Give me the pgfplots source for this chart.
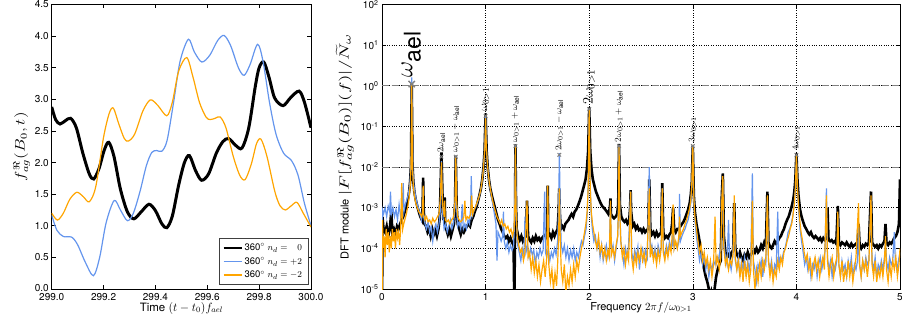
\documentclass[border=0pt]{standalone}
\usepackage{amsmath}
\usepackage{graphicx}
\usepackage{fontspec}
\setmainfont{TeX Gyre Heros}
\usepackage{pgfplots}
\pgfplotsset{compat=1.18}
\definecolor{cblue}{RGB}{100,149,237}
\definecolor{corange}{RGB}{255,165,0}
\begin{document}
\begin{tikzpicture}[x=1pt,y=1pt]
\useasboundingbox (0,0) rectangle (902,329);
\begin{axis}[at={(51.7pt,40pt)}, anchor=south west, scale only axis,
  width=259.3pt, height=284.5pt,
  xmin=299, xmax=300, ymin=0, ymax=4.5,
  xtick={299,299.2,299.4,299.6,299.8,300},
  xticklabels={299.0,299.2,299.4,299.6,299.8,300.0},
  ytick={0,0.5,1,1.5,2,2.5,3,3.5,4,4.5},
  yticklabels={\raisebox{3pt}{0.0},0.5,1.0,1.5,2.0,2.5,3.0,3.5,4.0,4.5},
  tick label style={font=\fontsize{10}{11}\selectfont},
  xticklabel style={yshift=-1pt},
  yticklabel style={xshift=0.5pt},
  tick align=inside, major tick length=4pt,
  axis line style={line width=0.8pt},
  every tick/.style={black, line width=0.6pt},
  xlabel={Time $(t-t_0)f_{ael}$},
  ylabel={\scalebox{1.45}[1.15]{$f^{\Re}_{ag}(B_0,t)$}},
  label style={font=\fontsize{11.5}{13}\selectfont},
  xlabel style={yshift=5.5pt},
  ylabel style={yshift=-2pt},
  legend style={at={(rel axis cs:0.99,0.015)}, anchor=south east, draw=black!75, line width=0.8pt,
    font=\fontsize{9.5}{11}\selectfont, row sep=1pt, inner xsep=4pt, inner ysep=3pt},
  legend cell align=left,
  legend image code/.code={\draw[#1, line width=1.6pt] (0pt,0pt) -- (18pt,0pt);},
]
\addplot[black, line width=3pt, smooth] coordinates {
(299.000,2.88)(299.015,2.68)(299.032,2.61)(299.052,2.66)(299.073,2.70)(299.095,2.55)
(299.120,2.15)(299.145,1.82)(299.162,1.74)(299.182,1.90)(299.203,2.20)(299.220,2.32)
(299.240,2.10)(299.265,1.58)(299.292,1.22)(299.317,1.11)(299.345,1.22)(299.375,1.34)
(299.400,1.24)(299.425,1.03)(299.444,0.97)(299.465,1.15)(299.490,1.65)(299.512,2.00)
(299.531,2.11)(299.555,1.87)(299.578,1.72)(299.605,1.82)(299.635,2.15)(299.660,2.33)
(299.682,2.38)(299.710,2.27)(299.734,2.23)(299.760,2.55)(299.785,3.20)(299.800,3.50)
(299.818,3.59)(299.838,3.35)(299.860,3.02)(299.892,2.90)(299.920,3.02)(299.954,3.13)
(299.975,2.95)(300.000,2.55)};
\addlegendentry{360$^\circ$ $n_d = \phantom{+}0$}
\addplot[cblue, line width=1.2pt, smooth] coordinates {
(299.000,1.17)(299.020,0.93)(299.045,0.83)(299.077,0.82)(299.100,0.70)(299.130,0.42)
(299.161,0.21)(299.185,0.50)(299.210,1.05)(299.241,1.40)(299.265,1.25)(299.292,1.08)
(299.315,1.20)(299.341,1.55)(299.365,1.95)(299.386,2.16)(299.405,2.19)(299.425,2.18)
(299.445,2.35)(299.470,2.95)(299.495,3.60)(299.527,3.95)(299.550,3.75)(299.579,3.59)
(299.610,3.70)(299.640,3.93)(299.665,4.01)(299.690,3.85)(299.720,3.50)(299.742,3.38)
(299.765,3.55)(299.794,3.87)(299.815,3.60)(299.840,2.95)(299.865,2.45)(299.894,2.15)
(299.925,2.03)(299.950,1.80)(299.975,1.35)(300.000,1.00)};
\addlegendentry{360$^\circ$ $n_d = +2$}
\addplot[corange, line width=1.2pt, smooth] coordinates {
(299.000,1.20)(299.022,1.09)(299.045,1.20)(299.070,1.42)(299.097,1.53)(299.122,1.46)
(299.145,1.38)(299.170,1.62)(299.200,2.40)(299.222,2.78)(299.238,2.86)(299.258,2.62)
(299.280,2.38)(299.296,2.34)(299.320,2.45)(299.350,2.80)(299.372,2.96)(299.386,2.99)
(299.410,2.90)(299.444,2.74)(299.465,2.95)(299.490,3.45)(299.521,3.66)(299.545,3.35)
(299.570,2.95)(299.595,2.72)(299.611,2.68)(299.630,2.70)(299.650,2.72)(299.672,2.55)
(299.700,2.10)(299.725,1.80)(299.746,1.73)(299.770,1.98)(299.790,2.30)(299.807,2.37)
(299.830,2.10)(299.860,1.55)(299.880,1.32)(299.901,1.25)(299.925,1.32)(299.946,1.37)
(299.970,1.20)(300.000,0.98)};
\addlegendentry{360$^\circ$ $n_d = -2$}
\end{axis}

\begin{axis}[at={(382pt,40pt)}, anchor=south west, scale only axis,
  width=518pt, height=284.5pt,
  xmin=0, xmax=5, ymode=log, ymin=1e-5, ymax=1e2,
  xtick={0,1,2,3,4,5}, xticklabels={0,1,2,3,4,5},
  ytick={1e-5,1e-4,1e-3,1e-2,1e-1,1e0,1e1,1e2},
  yticklabels={10\textsuperscript{-5},10\textsuperscript{-4},10\textsuperscript{-3},10\textsuperscript{-2},10\textsuperscript{-1},10\textsuperscript{0},10\textsuperscript{1},10\textsuperscript{2}},
  yminorticks=false,
  tick label style={font=\fontsize{10}{11}\selectfont},
  xticklabel style={yshift=-1pt},
  tick align=inside, major tick length=4pt,
  axis line style={line width=0.8pt},
  every tick/.style={black, line width=0.6pt},
  grid=major, major grid style={black, dotted, line width=0.6pt},
  xlabel={Frequency $2\pi f/\omega_{0>1}$},
  ylabel={DFT module \scalebox{1.75}[1.2]{$|F[f^{\Re}_{ag}(B_0)](f)|/\widetilde{N}_\omega$}},
  label style={font=\fontsize{11}{13}\selectfont},
  xlabel style={yshift=5.5pt},
]
\addplot[gray, line width=1.1pt, dash pattern=on 7pt off 3pt, forget plot] coordinates {(0,1) (5,1)};
\addplot[gray, line width=1.1pt, dash pattern=on 7pt off 3pt, forget plot] coordinates {(0,0.01) (5,0.01)};
\addplot[black, line width=2.6pt] coordinates {
(0.000,1e-6)(0.004,6e-4)(0.015,3e-4)(0.03,2.5e-4)(0.045,3.5e-4)(0.06,2e-4)(0.075,3e-4)(0.09,8e-4)(0.1,2.5e-4)(0.115,3e-4)
(0.13,2.2e-4)(0.145,3.5e-4)(0.16,3e-4)(0.175,4e-4)(0.19,5e-4)(0.205,6e-4)(0.22,8e-4)(0.235,1.1e-3)(0.25,1.6e-3)(0.262,2.5e-3)
(0.272,4.5e-3)(0.280,1.2e-2)(0.287,1.15)(0.294,1.2e-2)(0.302,4.5e-3)(0.312,2.5e-3)(0.325,1.6e-3)(0.34,1.1e-3)(0.355,8e-4)(0.37,6e-4)
(0.385,5e-4)(0.392,1e-3)(0.397,5.5e-3)(0.402,1e-3)(0.41,4e-4)(0.425,3.5e-4)(0.44,2.5e-4)(0.455,3e-4)(0.47,2e-4)(0.485,3e-4)
(0.5,2.2e-4)(0.515,2.8e-4)(0.53,2e-4)(0.545,3e-4)(0.555,5e-4)(0.562,1.5e-3)(0.568,6e-3)(0.574,2.3e-2)(0.58,5e-3)(0.586,1.2e-3)
(0.592,5e-4)(0.6,8e-4)(0.605,1.8e-3)(0.61,4e-4)(0.62,3e-4)(0.635,2.2e-4)(0.65,3e-4)(0.665,2e-4)(0.68,2.8e-4)(0.695,4e-4)
(0.705,1.2e-3)(0.712,1.9e-2)(0.72,1.2e-3)(0.73,4e-4)(0.745,3e-4)(0.76,2.2e-4)(0.775,3e-4)(0.79,2.5e-4)(0.805,3e-4)(0.82,3.5e-4)
(0.835,4e-4)(0.85,3.5e-4)(0.865,5e-4)(0.88,6e-4)(0.895,8e-4)(0.91,1e-3)(0.925,1.4e-3)(0.94,2e-3)(0.955,3e-3)(0.968,5e-3)
(0.98,1e-2)(0.99,2.5e-2)(1.0,0.21)(1.01,2.5e-2)(1.02,1e-2)(1.032,5e-3)(1.045,3e-3)(1.06,2e-3)(1.075,1.4e-3)(1.09,1e-3)
(1.105,7e-4)(1.12,5e-4)(1.135,4e-4)(1.15,3e-4)(1.165,2.5e-4)(1.18,2e-4)(1.195,1.8e-4)(1.21,2e-4)(1.225,1.5e-4)(1.24,1.8e-4)
(1.255,1.4e-4)(1.27,1.2e-4)(1.277,5e-6)(1.283,1e-4)(1.288,3.6e-2)(1.294,1e-3)(1.3,3e-4)(1.315,2e-4)(1.33,1.6e-4)(1.345,2e-4)
(1.36,1.5e-4)(1.375,1.8e-4)(1.39,2e-4)(1.4,1.5e-3)(1.41,2e-4)(1.425,1.6e-4)(1.44,1.4e-4)(1.455,1.8e-4)(1.47,1.5e-4)(1.485,2e-4)
(1.5,1.6e-4)(1.515,1.8e-4)(1.53,1.5e-4)(1.545,1.8e-4)(1.56,2e-4)(1.58,2.2e-4)(1.595,1.8e-4)(1.6,3.5e-3)(1.605,2e-4)(1.62,2.2e-4)
(1.635,1.8e-4)(1.65,2.5e-4)(1.665,2e-4)(1.68,2.5e-4)(1.695,3e-4)(1.705,8e-4)(1.71,3e-3)(1.716,8e-4)(1.725,3e-4)(1.74,3.5e-4)
(1.755,3e-4)(1.77,4e-4)(1.785,4.5e-4)(1.8,5e-4)(1.815,6e-4)(1.83,7e-4)(1.845,6e-4)(1.86,8e-4)(1.875,9e-4)(1.89,1.1e-3)
(1.905,1.4e-3)(1.92,1.8e-3)(1.935,2.5e-3)(1.95,3.5e-3)(1.965,5e-3)(1.978,9e-3)(1.99,2.5e-2)(2.0,0.3)(2.01,2.5e-2)(2.022,9e-3)
(2.035,5e-3)(2.05,3.5e-3)(2.065,2.5e-3)(2.08,2e-3)(2.095,1.6e-3)(2.11,1.3e-3)(2.125,1.1e-3)(2.14,1e-3)(2.155,9e-4)(2.17,8e-4)
(2.185,7e-4)(2.2,1e-3)(2.205,1.7e-3)(2.21,7e-4)(2.225,6e-4)(2.24,5.5e-4)(2.255,6e-4)(2.27,7e-4)(2.28,1.2e-3)(2.288,3.7e-2)
(2.296,1.2e-3)(2.31,6e-4)(2.325,5e-4)(2.34,4.5e-4)(2.355,5e-4)(2.37,4e-4)(2.385,4.5e-4)(2.395,1e-3)(2.4,2.7e-3)(2.405,8e-4)
(2.42,3.5e-4)(2.435,4e-4)(2.45,3e-4)(2.465,3.5e-4)(2.48,2.8e-4)(2.495,3e-4)(2.51,2.5e-4)(2.525,3e-4)(2.54,2.5e-4)(2.555,2.8e-4)
(2.57,3e-4)(2.58,5e-3)(2.59,3e-4)(2.605,2.2e-4)(2.62,2.5e-4)(2.635,2e-4)(2.65,2.5e-4)(2.665,2e-4)(2.68,2.2e-4)(2.695,2.5e-4)
(2.705,4e-3)(2.715,2.5e-4)(2.73,1.8e-4)(2.745,2e-4)(2.76,1.8e-4)(2.775,2.2e-4)(2.79,2.5e-4)(2.8,4e-4)(2.81,1e-3)(2.82,3e-4)
(2.835,2.5e-4)(2.85,3e-4)(2.865,3e-4)(2.88,3.5e-4)(2.895,4e-4)(2.91,4.5e-4)(2.925,5.5e-4)(2.94,7e-4)(2.955,9e-4)(2.97,1.3e-3)
(2.98,2e-3)(2.99,4e-3)(3.0,3.4e-2)(3.01,2e-3)(3.02,8e-4)(3.035,4e-4)(3.05,2.5e-4)(3.065,1.5e-4)(3.08,8e-5)(3.095,5e-5)
(3.11,3e-5)(3.125,2e-5)(3.14,1.5e-5)(3.155,1e-5)(3.165,5e-6)(3.18,8e-6)(3.195,5e-6)(3.21,1e-5)(3.225,2e-5)(3.24,3e-5)
(3.255,4e-5)(3.27,5e-5)(3.28,2e-3)(3.29,7e-3)(3.3,2e-4)(3.315,8e-5)(3.33,6e-5)(3.345,7e-5)(3.36,6e-5)(3.375,8e-5)
(3.39,9e-5)(3.4,1.3e-3)(3.41,1e-4)(3.425,7e-5)(3.44,6e-5)(3.455,8e-5)(3.47,6e-5)(3.485,5e-5)(3.5,7e-5)(3.515,6e-5)
(3.53,8e-5)(3.545,6e-5)(3.56,7e-5)(3.575,8e-5)(3.59,9e-5)(3.6,8e-5)(3.615,1e-4)(3.63,8e-5)(3.645,9e-5)(3.66,1.2e-4)
(3.675,1e-4)(3.69,1.4e-4)(3.705,1.2e-4)(3.72,2.5e-3)(3.73,1.4e-4)(3.745,1.1e-4)(3.76,1e-4)(3.775,1.2e-4)(3.79,1.5e-4)(3.805,1.3e-4)
(3.82,1.5e-4)(3.835,1.8e-4)(3.85,2e-4)(3.865,2.5e-4)(3.88,3e-4)(3.895,4e-4)(3.91,5e-4)(3.925,6e-4)(3.94,8e-4)(3.955,1.1e-3)
(3.97,1.6e-3)(3.98,2.5e-3)(3.99,5e-3)(4.0,2.2e-2)(4.01,5e-3)(4.02,2e-3)(4.035,9e-4)(4.05,6e-4)(4.065,4.5e-4)(4.08,3.5e-4)
(4.095,3e-4)(4.11,2.5e-4)(4.125,2.2e-4)(4.14,2.5e-4)(4.155,2e-4)(4.17,1.8e-4)(4.185,2e-4)(4.2,1.8e-4)(4.215,1.6e-4)(4.23,1.8e-4)
(4.245,1.5e-4)(4.26,1.8e-4)(4.275,1.6e-4)(4.29,1.8e-4)(4.3,1e-3)(4.31,1.6e-4)(4.325,1.5e-4)(4.34,1.6e-4)(4.355,1.4e-4)(4.37,1.5e-4)
(4.385,1.3e-4)(4.4,1.1e-3)(4.41,1.4e-4)(4.425,1.2e-4)(4.44,1.4e-4)(4.455,1.3e-4)(4.47,1.2e-4)(4.485,1.4e-4)(4.5,1.2e-4)(4.515,1.1e-4)
(4.53,1.3e-4)(4.545,1.1e-4)(4.56,1.2e-4)(4.575,1.3e-4)(4.59,1.1e-4)(4.6,4e-4)(4.61,1.2e-4)(4.625,1e-4)(4.64,1.2e-4)(4.655,1.1e-4)
(4.67,1.3e-4)(4.685,1.2e-4)(4.7,1.4e-4)(4.72,2.5e-3)(4.73,1.4e-4)(4.745,1.2e-4)(4.76,1.1e-4)(4.775,1.2e-4)(4.79,1e-4)(4.805,1.2e-4)
(4.82,1.1e-4)(4.835,1.3e-4)(4.85,1.5e-4)(4.86,4e-4)(4.87,1.3e-4)(4.885,1.2e-4)(4.9,1.4e-4)(4.915,1.3e-4)(4.93,1.5e-4)(4.945,1.8e-4)
(4.96,2e-4)(4.975,2.5e-4)(4.99,4e-4)(5.0,5e-3)};
\addplot[cblue, line width=1.2pt] coordinates {
(0.0,1e-6)(0.004,9e-4)(0.015,7e-4)(0.03,1e-3)(0.045,6e-4)(0.06,1.1e-3)(0.075,8e-4)(0.082,2.5e-3)(0.09,7e-4)(0.105,1e-3)
(0.12,6e-4)(0.135,9e-4)(0.15,5e-4)(0.165,1.2e-3)(0.18,6e-4)(0.195,9e-4)(0.205,4e-3)(0.212,8e-4)(0.225,1.2e-3)(0.24,1.6e-3)
(0.255,2.2e-3)(0.267,3.5e-3)(0.277,8e-3)(0.283,3e-2)(0.287,1.6)(0.292,3e-2)(0.298,8e-3)(0.308,3.5e-3)(0.32,2.2e-3)(0.335,1.4e-3)
(0.35,1e-3)(0.365,7e-4)(0.38,5e-4)(0.392,9e-4)(0.397,3e-3)(0.402,6e-4)(0.415,4e-4)(0.43,3e-4)(0.445,4.5e-4)(0.46,2.5e-4)
(0.475,3.5e-4)(0.49,1.5e-4)(0.505,3e-4)(0.52,4e-4)(0.535,2.5e-4)(0.55,4e-4)(0.562,8e-4)(0.568,3e-3)(0.574,1.4e-2)(0.58,2.5e-3)
(0.588,6e-4)(0.6,3e-4)(0.615,4e-4)(0.63,2.5e-4)(0.645,3.5e-4)(0.66,5e-4)(0.675,3e-4)(0.69,4e-4)(0.705,1e-3)(0.712,1.6e-2)
(0.72,1e-3)(0.73,3.5e-4)(0.745,4.5e-4)(0.76,3e-4)(0.775,1.2e-3)(0.785,3e-4)(0.8,4e-4)(0.815,3e-4)(0.83,5e-4)(0.845,4e-4)
(0.855,1e-3)(0.862,6e-3)(0.87,6e-4)(0.885,8e-4)(0.9,1e-3)(0.915,1.2e-3)(0.93,1.6e-3)(0.945,2.2e-3)(0.96,3.5e-3)(0.972,6e-3)
(0.983,1.2e-2)(0.992,3e-2)(1.0,0.18)(1.008,3e-2)(1.017,1.2e-2)(1.028,6e-3)(1.04,3.5e-3)(1.055,2e-3)(1.07,1.2e-3)(1.085,7e-4)
(1.1,4e-4)(1.11,5e-5)(1.12,2.5e-4)(1.135,2e-4)(1.15,1.5e-4)(1.165,2e-4)(1.172,8e-4)(1.18,1.5e-4)(1.195,1e-4)(1.21,1.4e-4)
(1.225,8e-5)(1.24,1.2e-4)(1.255,9e-5)(1.27,1.1e-4)(1.28,5e-4)(1.288,3.4e-2)(1.296,5e-4)(1.31,1.2e-4)(1.325,8e-5)(1.34,5e-5)
(1.355,1e-4)(1.37,7e-5)(1.38,6e-4)(1.39,8e-5)(1.405,1.2e-4)(1.42,6e-5)(1.435,1e-4)(1.45,7e-5)(1.465,9e-5)(1.48,4e-5)
(1.495,8e-5)(1.51,6e-5)(1.525,1e-4)(1.54,7e-5)(1.555,9e-5)(1.57,2.5e-3)(1.578,8e-5)(1.59,6e-5)(1.605,1e-4)(1.62,5e-5)
(1.635,8e-5)(1.65,6e-5)(1.665,1e-4)(1.68,7e-5)(1.695,1.5e-4)(1.705,1e-3)(1.712,2.2e-2)(1.72,1e-3)(1.73,1.2e-4)(1.745,8e-5)
(1.76,1.2e-4)(1.775,6e-5)(1.79,1e-4)(1.805,5e-5)(1.82,9e-5)(1.835,6e-5)(1.85,1e-4)(1.865,5e-5)(1.88,8e-5)(1.895,6e-5)
(1.91,1e-4)(1.925,1.5e-4)(1.94,1.2e-4)(1.955,2e-4)(1.97,3e-4)(1.982,8e-4)(1.992,5e-3)(2.0,0.26)(2.008,5e-3)(2.018,8e-4)
(2.03,3e-4)(2.045,1.5e-4)(2.06,2e-4)(2.075,1e-4)(2.09,1.5e-4)(2.105,6e-5)(2.12,1.2e-4)(2.135,5e-5)(2.15,8e-5)(2.165,1.2e-4)
(2.18,6e-5)(2.195,1e-4)(2.205,1.2e-3)(2.215,8e-5)(2.23,1.2e-4)(2.245,5e-5)(2.26,1e-4)(2.275,2e-4)(2.282,1e-3)(2.288,3.5e-2)
(2.295,1e-3)(2.305,1.5e-4)(2.32,8e-5)(2.335,4e-5)(2.35,1e-4)(2.365,6e-5)(2.38,1.2e-4)(2.4,2.5e-3)(2.41,8e-5)(2.425,5e-5)
(2.44,9e-5)(2.455,6e-5)(2.47,1.1e-4)(2.485,3e-5)(2.5,8e-5)(2.515,1e-4)(2.53,5e-5)(2.545,9e-5)(2.56,6e-5)(2.58,1e-2)
(2.59,8e-5)(2.605,1.2e-4)(2.62,6e-5)(2.635,1e-4)(2.65,5e-5)(2.665,1.2e-4)(2.68,8e-5)(2.695,1e-4)(2.705,3e-3)(2.715,1e-4)
(2.73,6e-5)(2.745,1.2e-4)(2.76,8e-5)(2.775,1.5e-4)(2.79,1e-4)(2.805,1.2e-4)(2.81,6e-4)(2.82,1e-4)(2.835,1.4e-4)(2.85,1e-4)
(2.865,1.5e-4)(2.872,2.2e-3)(2.88,1.5e-4)(2.895,2e-4)(2.91,2.5e-4)(2.925,3e-4)(2.94,4e-4)(2.955,5e-4)(2.97,8e-4)(2.98,1.3e-3)
(2.99,3e-3)(3.0,3.2e-2)(3.01,1.5e-3)(3.02,5e-4)(3.035,2e-4)(3.05,1e-4)(3.065,5e-5)(3.08,8e-5)(3.095,4e-5)(3.11,6e-5)
(3.125,3e-5)(3.14,5e-5)(3.155,2e-5)(3.17,4e-5)(3.185,3e-5)(3.2,5e-5)(3.215,4e-5)(3.23,6e-5)(3.245,5e-5)(3.26,8e-5)
(3.275,1e-4)(3.282,1.5e-3)(3.29,5e-3)(3.3,1.5e-4)(3.315,6e-5)(3.33,4e-5)(3.345,5e-4)(3.355,5e-5)(3.37,3e-5)(3.385,6e-5)
(3.4,8e-4)(3.41,5e-5)(3.425,3e-5)(3.44,6e-5)(3.455,2e-5)(3.47,5e-5)(3.485,3e-5)(3.5,6e-5)(3.515,2e-5)(3.53,5e-5)
(3.545,3e-5)(3.56,6e-5)(3.575,7e-3)(3.585,5e-5)(3.6,3e-5)(3.615,1.5e-5)(3.63,4e-5)(3.645,3e-5)(3.66,5e-5)(3.675,2e-5)
(3.69,5e-5)(3.705,4e-5)(3.72,1.5e-3)(3.73,5e-5)(3.745,3e-5)(3.76,5e-5)(3.775,2e-5)(3.79,4e-5)(3.805,3e-5)(3.82,8e-4)
(3.83,4e-5)(3.845,6e-5)(3.86,5e-5)(3.875,8e-5)(3.89,1e-4)(3.905,1.5e-4)(3.92,2.5e-4)(3.935,3e-4)(3.95,4e-4)(3.965,6e-4)
(3.978,1.2e-3)(3.99,3e-3)(4.0,1.8e-2)(4.01,3e-3)(4.022,8e-4)(4.035,3e-4)(4.05,1.5e-4)(4.065,8e-5)(4.08,4e-5)(4.095,6e-5)
(4.11,3e-5)(4.125,5e-5)(4.14,2e-5)(4.155,4e-5)(4.17,3e-5)(4.185,5e-5)(4.2,2e-5)(4.215,4e-5)(4.23,6e-5)(4.245,3e-5)
(4.26,5e-5)(4.275,8e-5)(4.29,3e-3)(4.3,6e-5)(4.315,3e-5)(4.33,5e-5)(4.345,2e-5)(4.36,4e-5)(4.375,3e-5)(4.39,5e-5)
(4.4,6e-4)(4.41,4e-5)(4.425,2e-5)(4.44,5e-5)(4.455,3e-5)(4.47,4e-5)(4.485,2e-5)(4.5,5e-5)(4.515,3e-5)(4.53,6e-5)
(4.545,2e-5)(4.56,4e-5)(4.575,3e-5)(4.59,5e-5)(4.6,4e-4)(4.61,4e-5)(4.625,2e-5)(4.64,5e-5)(4.655,3e-5)(4.67,6e-5)
(4.685,4e-5)(4.7,5e-5)(4.72,1.5e-3)(4.73,5e-5)(4.745,3e-5)(4.76,6e-5)(4.775,2e-5)(4.79,4e-5)(4.805,3e-5)(4.82,5e-5)
(4.835,3e-5)(4.85,6e-5)(4.86,1.5e-4)(4.87,5e-5)(4.885,3e-5)(4.9,6e-5)(4.915,4e-5)(4.93,5e-5)(4.945,2.5e-4)(4.955,5e-5)
(4.97,3e-5)(4.985,5e-5)(5.0,8e-5)};
\addplot[corange, line width=1.2pt] coordinates {
(0.0,1e-6)(0.004,5e-4)(0.012,1e-4)(0.02,2e-4)(0.03,6e-5)(0.04,3e-4)(0.05,1.2e-4)(0.06,2.5e-4)(0.07,8e-5)(0.08,2e-4)
(0.09,1e-4)(0.1,3e-4)(0.11,1.5e-4)(0.12,2.5e-4)(0.13,1e-4)(0.14,3e-4)(0.15,1.8e-4)(0.16,2.5e-4)(0.17,1.2e-4)(0.18,3e-4)
(0.19,4e-3)(0.2,3e-4)(0.21,4e-4)(0.22,5e-4)(0.235,7e-4)(0.25,1.1e-3)(0.262,1.8e-3)(0.272,3.5e-3)(0.28,1e-2)(0.287,1.1)
(0.294,1e-2)(0.302,3.5e-3)(0.312,2e-3)(0.325,1.3e-3)(0.34,1e-3)(0.355,8e-4)(0.37,7e-4)(0.385,6e-4)(0.392,8e-4)(0.397,3.5e-3)
(0.402,7e-4)(0.415,5e-4)(0.43,6e-4)(0.445,4.5e-4)(0.46,5e-4)(0.475,4e-4)(0.49,5.5e-4)(0.505,4.5e-4)(0.52,5e-4)(0.535,6e-4)
(0.55,7e-4)(0.562,1.5e-3)(0.568,4e-3)(0.574,1.3e-2)(0.58,3e-3)(0.588,1e-3)(0.6,6e-4)(0.605,1.5e-3)(0.61,5e-4)(0.625,4.5e-4)
(0.64,5e-4)(0.655,4e-4)(0.67,5e-4)(0.685,5.5e-4)(0.695,7e-4)(0.705,1.5e-3)(0.712,1.8e-2)(0.72,1.5e-3)(0.73,6e-4)(0.745,5e-4)
(0.76,4.5e-4)(0.775,5e-4)(0.79,6e-4)(0.8,1.5e-3)(0.81,5e-4)(0.825,6e-4)(0.84,5.5e-4)(0.855,7e-4)(0.865,2e-3)(0.875,7e-4)
(0.89,9e-4)(0.905,1.1e-3)(0.92,1.4e-3)(0.935,1.8e-3)(0.95,2.5e-3)(0.963,4e-3)(0.975,7e-3)(0.985,1.5e-2)(0.993,3e-2)(1.0,0.16)
(1.007,3e-2)(1.015,1.5e-2)(1.025,7e-3)(1.037,4e-3)(1.05,2.5e-3)(1.065,1.6e-3)(1.08,1.1e-3)(1.095,8e-4)(1.11,6e-4)(1.125,5e-4)
(1.14,4e-4)(1.155,5e-4)(1.17,3.5e-4)(1.185,4e-4)(1.2,3e-4)(1.215,3.5e-4)(1.23,2.5e-4)(1.245,3e-4)(1.26,2e-4)(1.275,3e-4)
(1.282,1e-3)(1.288,3.3e-2)(1.294,1e-3)(1.305,2e-4)(1.32,1.2e-4)(1.335,8e-5)(1.35,1e-4)(1.365,5e-5)(1.38,8e-5)(1.4,1.5e-3)
(1.41,6e-5)(1.425,8e-5)(1.44,3e-5)(1.455,6e-5)(1.47,2.5e-5)(1.485,5e-5)(1.5,2e-5)(1.515,4e-5)(1.53,1.5e-5)(1.545,3e-5)
(1.56,5e-5)(1.575,2e-5)(1.59,6e-5)(1.6,3.5e-3)(1.61,4e-5)(1.625,1.5e-5)(1.64,3e-5)(1.655,1e-5)(1.67,2.5e-5)(1.685,1.2e-5)
(1.695,4e-5)(1.705,2e-4)(1.712,3e-3)(1.72,2e-4)(1.73,3e-5)(1.745,1.5e-5)(1.76,4e-5)(1.775,8e-6)(1.79,2e-5)(1.805,1.2e-5)
(1.82,3e-5)(1.835,1.5e-5)(1.85,4e-5)(1.865,2e-5)(1.88,5e-5)(1.895,3e-5)(1.91,6e-5)(1.925,1e-4)(1.94,1.5e-4)(1.955,2.5e-4)
(1.968,4e-4)(1.98,8e-4)(1.99,3e-3)(2.0,0.27)(2.01,3e-3)(2.02,8e-4)(2.032,4e-4)(2.045,2.5e-4)(2.06,1.5e-4)(2.075,1e-4)
(2.09,2e-4)(2.105,8e-5)(2.12,1.2e-4)(2.135,6e-5)(2.15,1e-4)(2.165,5e-5)(2.18,9e-5)(2.195,6e-5)(2.205,1.5e-3)(2.215,7e-5)
(2.23,1e-4)(2.245,6e-5)(2.26,1.2e-4)(2.275,2e-4)(2.282,8e-4)(2.288,3.3e-2)(2.295,8e-4)(2.305,1.5e-4)(2.32,6e-5)(2.335,1e-4)
(2.35,4e-5)(2.365,8e-5)(2.38,5e-5)(2.4,2.5e-3)(2.41,6e-5)(2.425,3e-5)(2.44,7e-5)(2.455,4e-5)(2.47,8e-5)(2.485,5e-5)
(2.5,1e-4)(2.515,5e-5)(2.53,8e-5)(2.545,4e-5)(2.56,7e-5)(2.58,3e-3)(2.59,6e-5)(2.605,1e-4)(2.62,5e-5)(2.635,8e-5)
(2.65,4e-5)(2.665,9e-5)(2.68,5e-5)(2.695,1e-4)(2.705,3e-3)(2.715,8e-5)(2.73,5e-5)(2.745,1e-4)(2.76,6e-5)(2.775,1.2e-4)
(2.79,8e-5)(2.8,2e-4)(2.81,1.2e-3)(2.82,1e-4)(2.835,1.5e-4)(2.85,1e-4)(2.865,2e-4)(2.872,6e-4)(2.88,2e-4)(2.895,2.5e-4)
(2.91,3e-4)(2.925,4e-4)(2.94,5e-4)(2.955,7e-4)(2.97,1e-3)(2.98,1.5e-3)(2.99,3.5e-3)(3.0,3.5e-2)(3.01,1.8e-3)(3.02,6e-4)
(3.035,3e-4)(3.05,1.5e-4)(3.065,8e-5)(3.08,1.2e-4)(3.095,5e-5)(3.11,8e-5)(3.125,4e-5)(3.14,6e-5)(3.155,3e-5)(3.17,5e-5)
(3.185,2e-5)(3.2,4e-5)(3.215,6e-4)(3.225,4e-5)(3.24,6e-5)(3.255,3e-5)(3.27,6e-5)(3.28,1.5e-3)(3.29,6e-3)(3.3,1e-4)
(3.315,4e-5)(3.33,6e-5)(3.345,3e-5)(3.36,5e-5)(3.375,4e-5)(3.39,8e-5)(3.4,2e-3)(3.41,6e-5)(3.425,3e-5)(3.44,5e-5)
(3.455,2e-5)(3.47,4e-5)(3.485,1.5e-5)(3.5,5e-5)(3.515,2e-5)(3.53,4e-5)(3.545,1.5e-5)(3.56,3e-5)(3.575,1.5e-3)(3.585,3e-5)
(3.6,1e-5)(3.615,3e-5)(3.63,1.5e-5)(3.645,4e-5)(3.66,2e-5)(3.675,5e-5)(3.69,3e-5)(3.705,6e-5)(3.72,2e-3)(3.73,5e-5)
(3.745,2e-5)(3.76,4e-5)(3.775,1.5e-5)(3.79,3e-5)(3.805,2e-5)(3.82,5e-5)(3.835,3e-5)(3.85,6e-5)(3.865,4e-5)(3.88,8e-5)
(3.895,1e-4)(3.91,1.5e-4)(3.925,2e-4)(3.94,3e-4)(3.955,4e-4)(3.968,7e-4)(3.98,1.2e-3)(3.99,3e-3)(4.0,2e-2)(4.01,3e-3)
(4.02,1.2e-3)(4.032,5e-4)(4.045,2.5e-4)(4.06,1.5e-4)(4.075,8e-5)(4.09,5e-5)(4.105,7e-5)(4.12,3e-5)(4.135,5e-5)(4.15,2e-5)
(4.165,4e-5)(4.18,6e-5)(4.195,3e-5)(4.21,5e-5)(4.225,2e-5)(4.24,4e-5)(4.255,6e-5)(4.27,3e-5)(4.29,2e-3)(4.3,5e-5)
(4.315,2e-5)(4.33,4e-5)(4.345,6e-5)(4.36,2e-5)(4.375,4e-5)(4.39,6e-5)(4.4,8e-4)(4.41,4e-5)(4.425,2e-5)(4.44,5e-5)
(4.455,1.5e-5)(4.47,3e-5)(4.485,2e-5)(4.5,5e-5)(4.515,2e-5)(4.53,4e-5)(4.545,1.5e-5)(4.56,3e-5)(4.575,6e-5)(4.6,1.3e-3)
(4.61,4e-5)(4.625,2e-5)(4.64,5e-5)(4.655,3e-5)(4.67,5e-5)(4.685,2e-5)(4.7,5e-5)(4.72,2e-3)(4.73,4e-5)(4.745,2e-5)
(4.76,5e-5)(4.775,1.5e-5)(4.79,3e-5)(4.805,2e-5)(4.82,4e-5)(4.835,2e-5)(4.85,5e-5)(4.86,2e-4)(4.87,3e-5)(4.885,1.5e-5)
(4.9,4e-5)(4.915,2e-5)(4.93,5e-5)(4.945,3e-5)(4.96,6e-5)(4.975,2e-5)(4.99,4e-5)(5.0,1e-4)};
\addplot[only marks, mark=x, mark size=4.5pt, gray, line width=1.3pt] coordinates {(0.287,1.1)};
\addplot[only marks, mark=x, mark size=2.5pt, gray, line width=1pt] coordinates {
(0.574,0.018)(0.712,0.018)(1.0,0.18)(1.288,0.033)(1.712,0.02)(2.0,0.27)(2.288,0.033)(3.0,0.033)(4.0,0.02)};
\node[rotate=90, anchor=west, inner sep=2pt, font=\fontsize{23}{26}\selectfont] at (axis cs:0.283,1.4) {$\omega_{\textstyle\mathrm{ael}}$};
\node[rotate=90, anchor=west, inner sep=2pt, font=\fontsize{9.5}{10}\selectfont] at (axis cs:0.574,0.02) {$2\omega_{\mathrm{ael}}$};
\node[rotate=90, anchor=west, inner sep=2pt, font=\fontsize{9.5}{10}\selectfont] at (axis cs:0.712,0.02) {$\omega_{0>1}-\omega_{\mathrm{ael}}$};
\node[rotate=90, anchor=west, inner sep=2pt, font=\fontsize{13}{14}\selectfont] at (axis cs:1.0,0.2) {$\omega_{0>1}$};
\node[rotate=90, anchor=west, inner sep=2pt, font=\fontsize{9.5}{10}\selectfont] at (axis cs:1.288,0.036) {$\omega_{0>1}+\omega_{\mathrm{ael}}$};
\node[rotate=90, anchor=west, inner sep=2pt, font=\fontsize{9.5}{10}\selectfont] at (axis cs:1.712,0.022) {$2\omega_{0>1}-\omega_{\mathrm{ael}}$};
\node[rotate=90, anchor=west, inner sep=2pt, font=\fontsize{15}{16}\selectfont] at (axis cs:2.0,0.3) {$2\omega_{0>1}$};
\node[rotate=90, anchor=west, inner sep=2pt, font=\fontsize{9.5}{10}\selectfont] at (axis cs:2.288,0.036) {$2\omega_{0>1}+\omega_{\mathrm{ael}}$};
\node[rotate=90, anchor=west, inner sep=2pt, font=\fontsize{9.5}{10}\selectfont] at (axis cs:3.0,0.036) {$3\omega_{0>1}$};
\node[rotate=90, anchor=west, inner sep=2pt, font=\fontsize{9.5}{10}\selectfont] at (axis cs:4.0,0.022) {$4\omega_{0>1}$};
\end{axis}
\end{tikzpicture}
\end{document}
